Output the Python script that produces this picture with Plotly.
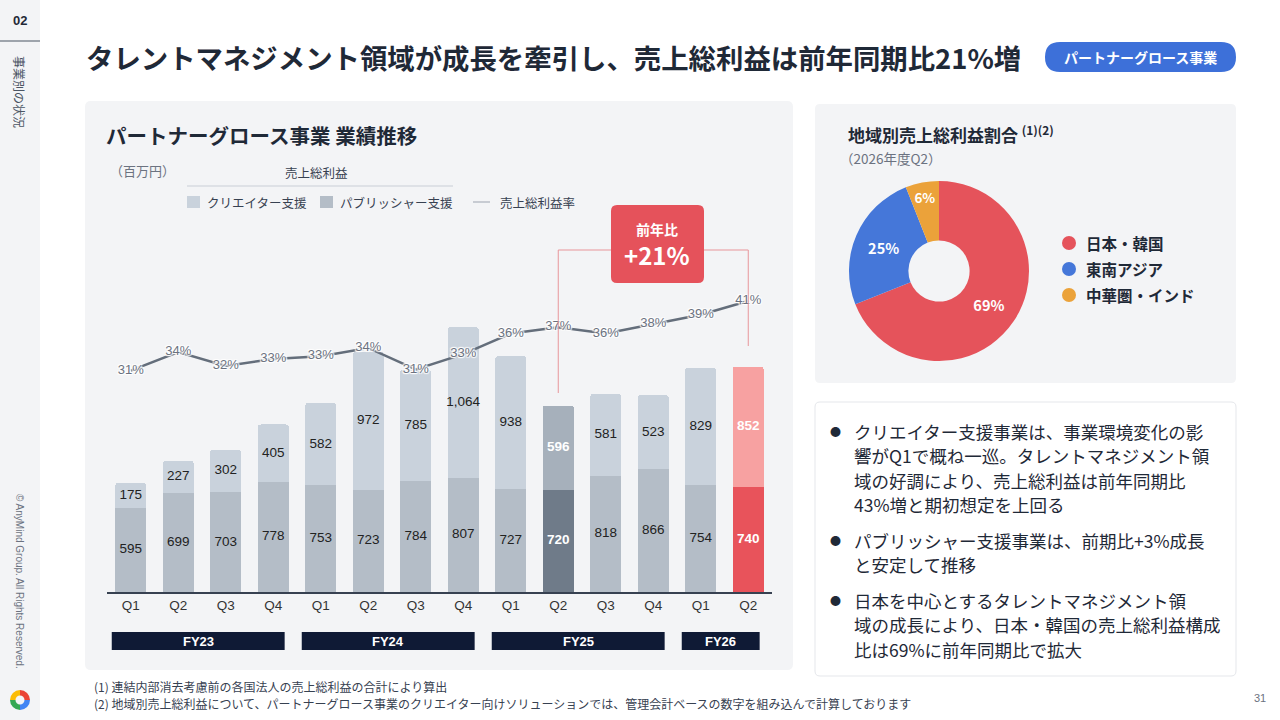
import plotly.graph_objects as go

# Data
quarters = ["Q1", "Q2", "Q3", "Q4", "Q1", "Q2", "Q3", "Q4", "Q1", "Q2", "Q3", "Q4", "Q1", "Q2"]
fiscal_years = ["FY23", "FY24", "FY25", "FY26"]
fy_quarter_count = [4, 4, 4, 2]
creator = [175, 227, 302, 405, 582, 972, 785, 1064, 938, 596, 581, 523, 829, 852]
publisher = [595, 699, 703, 778, 753, 723, 784, 807, 727, 720, 818, 866, 754, 740]
margin_pct = [30.9, 33.6, 31.6, 32.6, 33.0, 34.2, 31.1, 33.3, 36.3, 37.2, 36.3, 37.7, 39.0, 41.0]
yoy_label = "+21%"

regions = ["日本・韓国", "東南アジア", "中華圏・インド"]
region_share = [69, 25, 6]
region_colors = ["#e5535b", "#4577d9", "#eba23a"]

bullets = [
    ["クリエイター支援事業は、事業環境変化の影", "響がQ1で概ね一巡。タレントマネジメント領",
     "域の好調により、売上総利益は前年同期比", "43%増と期初想定を上回る"],
    ["パブリッシャー支援事業は、前期比+3%成長", "と安定して推移"],
    ["日本を中心とするタレントマネジメント領", "域の成長により、日本・韓国の売上総利益構成",
     "比は69%に前年同期比で拡大"],
]

JP = "Noto Sans CJK JP"
NUM = "Liberation Sans, Noto Sans CJK JP"
DARK = "#1f2937"
GRAY = "#6b7280"

W, H = 1280, 720
def px(x): return x / W
def py(y): return 1 - y / H

def rrect(x0, y0, x1, y1, r):
    pts = [("M", x0 + r, y0), ("L", x1 - r, y0), ("Q", x1, y0, x1, y0 + r), ("L", x1, y1 - r),
           ("Q", x1, y1, x1 - r, y1), ("L", x0 + r, y1), ("Q", x0, y1, x0, y1 - r),
           ("L", x0, y0 + r), ("Q", x0, y0, x0 + r, y0)]
    s = ""
    for p in pts:
        cmd, coords = p[0], p[1:]
        s += cmd + " " + " ".join(
            f"{px(coords[i]):.5f},{py(coords[i + 1]):.5f}" for i in range(0, len(coords), 2)) + " "
    return s + "Z"

n = len(quarters)
idx = list(range(n))
hl_gray, hl_red = 9, 13

creator_colors = ["#c9d2dc"] * n
publisher_colors = ["#b4bdc7"] * n
creator_colors[hl_gray], publisher_colors[hl_gray] = "#a6b0bb", "#6f7b89"
creator_colors[hl_red], publisher_colors[hl_red] = "#f7a1a1", "#e8535b"

fig = go.Figure()

fig.add_trace(go.Bar(x=idx, y=publisher, marker=dict(color=publisher_colors, line=dict(width=0)),
                     hoverinfo="skip"))
fig.add_trace(go.Bar(x=idx, y=creator, marker=dict(color=creator_colors, line=dict(width=0)),
                     hoverinfo="skip"))

# bar value labels
lab_x, lab_y, lab_t, lab_c = [], [], [], []
for i in idx:
    hl = i in (hl_gray, hl_red)
    for val, mid in ((publisher[i], publisher[i] / 2), (creator[i], publisher[i] + creator[i] / 2)):
        lab_x.append(i)
        lab_y.append(mid)
        lab_t.append(f"<b>{val:,}</b>" if hl else f"{val:,}")
        lab_c.append("white" if hl else "#222222")
fig.add_trace(go.Scatter(x=lab_x, y=lab_y, mode="text", text=lab_t,
                         textfont=dict(family=NUM, size=13.5, color=lab_c), hoverinfo="skip"))

# gross margin line
halo = "1px 1px 1px #fff, -1px -1px 1px #fff, 1px -1px 1px #fff, -1px 1px 1px #fff, 0 0 2px #fff"
fig.add_trace(go.Scatter(x=idx, y=margin_pct, yaxis="y2", mode="lines+text",
                         text=[f"{round(v)}%" for v in margin_pct], textposition="middle center",
                         line=dict(color="#646e7b", width=2.5),
                         textfont=dict(family=NUM, size=13, color=GRAY, shadow=halo),
                         hoverinfo="skip", cliponaxis=False))

# donut
fig.add_trace(go.Pie(labels=regions, values=region_share, sort=False, direction="clockwise",
                     rotation=0, hole=0.34, marker=dict(colors=region_colors, line=dict(width=0)),
                     texttemplate="%{value}%", textposition="inside", insidetextorientation="horizontal",
                     insidetextfont=dict(family=JP, size=14.5, color="white", weight="bold"),
                     domain=dict(x=[px(849), px(1029)], y=[py(361), py(181)]),
                     showlegend=False, hoverinfo="skip"))

# logo
fig.add_trace(go.Pie(values=[1, 1, 1, 1], sort=False, hole=0.45, textinfo="none",
                     marker=dict(colors=["#ea4335", "#fbbc05", "#34a853", "#4285f4"]),
                     domain=dict(x=[px(10), px(30)], y=[py(710), py(690)]),
                     showlegend=False, hoverinfo="skip"))

P = dict(xref="paper", yref="paper")
shapes = [
    dict(type="rect", **P, x0=0, x1=px(40), y0=0, y1=1,
         fillcolor="#f3f4f6", line=dict(width=0), layer="below"),
    dict(type="line", **P, x0=0, x1=px(40), y0=py(41), y1=py(41),
         line=dict(color="#4b5563", width=1.2)),
    dict(type="path", **P, path=rrect(85, 101, 793, 670, 6), fillcolor="#f3f4f6",
         line=dict(width=0), layer="below"),
    dict(type="path", **P, path=rrect(815, 104, 1236, 383, 5), fillcolor="#f3f4f6",
         line=dict(width=0), layer="below"),
    dict(type="path", **P, path=rrect(815, 402, 1236, 676, 5), fillcolor="white",
         line=dict(color="#e5e7eb", width=1), layer="below"),
    dict(type="path", **P, path=rrect(1045, 42, 1236, 72, 15), fillcolor="#3d70d9",
         line=dict(width=0)),
    # legend header rule and keys
    dict(type="line", **P, x0=px(187), x1=px(453), y0=py(186), y1=py(186),
         line=dict(color="#c9ced6", width=1)),
    dict(type="rect", **P, x0=px(187), x1=px(200), y0=py(208), y1=py(196),
         fillcolor="#c9d2dc", line=dict(width=0)),
    dict(type="rect", **P, x0=px(320), x1=px(333), y0=py(208), y1=py(196),
         fillcolor="#b4bdc7", line=dict(width=0)),
    dict(type="line", **P, x0=px(473), x1=px(490), y0=py(202), y1=py(202),
         line=dict(color="#9ca3af", width=1)),
    # YoY bracket
    dict(type="line", xref="x", yref="paper", x0=hl_gray, x1=hl_gray, y0=py(250), y1=py(393),
         line=dict(color="#e8959a", width=1)),
    dict(type="line", xref="x", yref="paper", x0=hl_gray, x1=hl_red, y0=py(250), y1=py(250),
         line=dict(color="#e8959a", width=1)),
    dict(type="line", xref="x", yref="paper", x0=hl_red, x1=hl_red, y0=py(250), y1=py(346),
         line=dict(color="#e8959a", width=1)),
    dict(type="path", **P, path=rrect(611, 205, 704, 283, 6), fillcolor="#e5525b", line=dict(width=0)),
]

annotations = [
    dict(x=px(20), y=py(20), text="<b>02</b>", font=dict(family=NUM, size=13, color=DARK)),
    dict(x=px(20), y=py(92), text="事業別の状況", textangle=90, font=dict(family=JP, size=12, color="#4b5563")),
    dict(x=px(20), y=py(581), text="© AnyMind Group. All Rights Reserved.", textangle=90,
         font=dict(family=NUM, size=10, color="#6b7280")),
    dict(x=px(84), y=py(57), xanchor="left",
         text="<b>タレントマネジメント領域が成長を牽引し、売上総利益は前年同期比21%増</b>",
         font=dict(family=JP, size=27.4, color=DARK)),
    dict(x=px(1140), y=py(57), text="<b>パートナーグロース事業</b>", font=dict(family=JP, size=14, color="white")),
    dict(x=px(104), y=py(135), xanchor="left", text="<b>パートナーグロース事業 業績推移</b>",
         font=dict(family=JP, size=20.5, color=DARK)),
    dict(x=px(108), y=py(170), xanchor="left", text="（百万円）", font=dict(family=JP, size=13, color=GRAY)),
    dict(x=px(316), y=py(172), text="売上総利益", font=dict(family=JP, size=12.5, color="#374151")),
    dict(x=px(205), y=py(202), xanchor="left", text="クリエイター支援", font=dict(family=JP, size=12.5, color="#374151")),
    dict(x=px(338), y=py(202), xanchor="left", text="パブリッシャー支援", font=dict(family=JP, size=12.5, color="#374151")),
    dict(x=px(498), y=py(202), xanchor="left", text="売上総利益率", font=dict(family=JP, size=12.5, color="#374151")),
    dict(x=px(657), y=py(229), text="<b>前年比</b>", font=dict(family=JP, size=14, color="white")),
    dict(x=px(657), y=py(254), text=f"<b>{yoy_label}</b>", font=dict(family=JP, size=24, color="white")),
    dict(x=px(846), y=py(134), xanchor="left",
         text="<b>地域別売上総利益割合</b> <sup><b>(1)(2)</b></sup>", font=dict(family=JP, size=17, color=DARK)),
    dict(x=px(838), y=py(158), xanchor="left", text="（2026年度Q2）", font=dict(family=JP, size=13.5, color=GRAY)),
    dict(x=px(92), y=py(686.5), xanchor="left", text="(1) 連結内部消去考慮前の各国法人の売上総利益の合計により算出",
         font=dict(family=JP, size=12, color="#374151")),
    dict(x=px(92), y=py(703.5), xanchor="left",
         text="(2) 地域別売上総利益について、パートナーグロース事業のクリエイター向けソリューションでは、管理会計ベースの数字を組み込んで計算しております",
         font=dict(family=JP, size=12, color="#374151")),
    dict(x=px(1260), y=py(698), text="31", font=dict(family=NUM, size=11, color=GRAY)),
]

# FY boxes under the axis
start = 0
for fy, cnt in zip(fiscal_years, fy_quarter_count):
    x0, x1 = start - 0.4, start + cnt - 1 + 0.24
    shapes.append(dict(type="rect", xref="x", yref="paper", x0=x0, x1=x1, y0=py(650), y1=py(632),
                       fillcolor="#0f1a35", line=dict(width=0)))
    annotations.append(dict(xref="x", x=(x0 + x1) / 2, y=py(641), text=f"<b>{fy}</b>",
                            font=dict(family=NUM, size=13, color="white")))
    start += cnt

# pie legend
for k, (reg, col) in enumerate(zip(regions, region_colors)):
    yc = 243 + 26 * k
    shapes.append(dict(type="circle", **P, x0=px(1062), x1=px(1076),
                       y0=py(yc + 7), y1=py(yc - 7), fillcolor=col, line=dict(width=0)))
    annotations.append(dict(x=px(1084), y=py(yc), xanchor="left", text=f"<b>{reg}</b>",
                            font=dict(family=JP, size=15.5, color=DARK)))

# bullet text
yline = 431
for b in bullets:
    annotations.append(dict(x=px(835), y=py(yline), text="●", font=dict(family=JP, size=11, color=DARK)))
    for line in b:
        annotations.append(dict(x=px(852), y=py(yline), xanchor="left", text=line,
                                font=dict(family=JP, size=17.5, color=DARK)))
        yline += 24.5
    yline += 11

for a in annotations:
    a.setdefault("xref", "paper")
    a.setdefault("yref", "paper")
    a.setdefault("xanchor", "center")
    a["yanchor"] = "middle"
    a["showarrow"] = False

fig.update_layout(
    width=W, height=H,
    margin=dict(l=0, r=0, t=0, b=0),
    paper_bgcolor="white", plot_bgcolor="rgba(0,0,0,0)",
    barmode="stack", bargap=0.35, barcornerradius=3,
    showlegend=False,
    xaxis=dict(domain=[px(107), px(772)], range=[-0.5, n - 0.5], tickvals=idx, ticktext=quarters,
               showgrid=False, zeroline=False, showline=True, linecolor="#374151", linewidth=1.5,
               ticks="", tickfont=dict(family=NUM, size=13.5, color="#333333"), fixedrange=True),
    yaxis=dict(domain=[py(592), py(200)], range=[0, 2768], visible=False, fixedrange=True),
    yaxis2=dict(domain=[py(592), py(200)], range=[-1.17, 55.64], overlaying="y", visible=False),
    shapes=shapes,
    annotations=annotations,
    font=dict(family=JP),
)

fig.write_html("out.html", config={"displayModeBar": False},
               post_script="document.body.style.margin='0';")
